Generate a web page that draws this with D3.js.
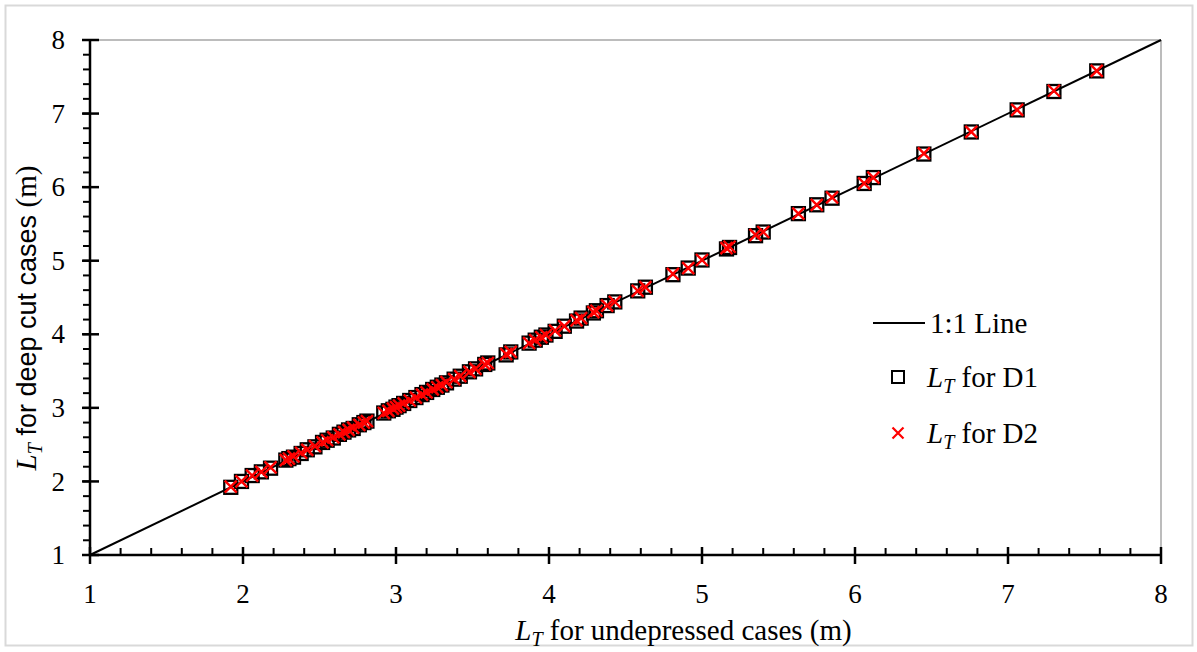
<!DOCTYPE html>
<html><head><meta charset="utf-8">
<script src="https://cdn.jsdelivr.net/npm/d3@7"></script>
<style>body{margin:0;background:#fff}svg{display:block}</style>
</head><body><svg id="c" width="1197" height="652"></svg>
<script>
const undepressed = [1.92,1.99,2.06,2.12,2.18,2.28,2.30,2.33,2.38,2.42,2.47,2.52,2.55,2.59,2.63,2.66,2.69,2.72,2.76,2.79,2.81,2.92,2.95,2.98,3.00,3.02,3.05,3.09,3.13,3.17,3.20,3.24,3.27,3.30,3.33,3.38,3.42,3.48,3.52,3.58,3.60,3.72,3.75,3.87,3.91,3.95,3.98,4.04,4.10,4.18,4.21,4.29,4.31,4.38,4.43,4.58,4.63,4.81,4.91,5.00,5.16,5.18,5.35,5.40,5.63,5.75,5.85,6.06,6.12,6.45,6.76,7.06,7.30,7.58];
const deepD1 = [1.92,2.00,2.08,2.13,2.18,2.29,2.31,2.33,2.38,2.43,2.47,2.53,2.56,2.59,2.64,2.67,2.70,2.72,2.77,2.80,2.82,2.93,2.96,2.98,3.01,3.03,3.06,3.10,3.14,3.18,3.21,3.25,3.28,3.31,3.34,3.39,3.43,3.49,3.53,3.59,3.61,3.72,3.76,3.88,3.92,3.96,3.99,4.04,4.11,4.18,4.22,4.29,4.32,4.39,4.44,4.59,4.64,4.81,4.90,5.01,5.16,5.18,5.34,5.39,5.64,5.76,5.85,6.05,6.13,6.45,6.75,7.05,7.30,7.58];
const deepD2 = [1.93,2.00,2.08,2.13,2.19,2.29,2.31,2.34,2.39,2.43,2.48,2.53,2.56,2.60,2.64,2.67,2.70,2.73,2.77,2.80,2.82,2.93,2.96,2.99,3.01,3.03,3.06,3.10,3.14,3.18,3.21,3.25,3.28,3.31,3.35,3.39,3.43,3.49,3.53,3.59,3.61,3.73,3.76,3.88,3.92,3.96,3.99,4.05,4.11,4.19,4.22,4.30,4.32,4.39,4.44,4.59,4.64,4.82,4.90,5.01,5.17,5.19,5.35,5.39,5.64,5.76,5.86,6.05,6.13,6.46,6.75,7.05,7.31,7.58];
const lineEnds = [1, 8];
const majorTicks = [1,2,3,4,5,6,7,8];
const minorTicks = d3.range(1, 8.001, 0.2).map(v => +v.toFixed(1));
const legendLabels = ["1:1 Line", "for D1", "for D2"];

const svg = d3.select("#c");
svg.append("rect").attr("x",5.5).attr("y",5.5).attr("width",1187).attr("height",640)
  .attr("fill","#fff").attr("stroke","#d9d9d9").attr("stroke-width",2);

const x = d3.scaleLinear().domain([1,8]).range([90,1161]);
const y = d3.scaleLinear().domain([1,8]).range([555,40]);

svg.append("line").attr("x1",x(1)).attr("x2",x(8)).attr("y1",y(8)).attr("y2",y(8)).attr("stroke","#a6a6a6").attr("stroke-width",1.5);
svg.append("line").attr("x1",x(8)).attr("x2",x(8)).attr("y1",y(8)).attr("y2",y(1)).attr("stroke","#a6a6a6").attr("stroke-width",1.5);

svg.append("line").attr("x1",x(lineEnds[0])).attr("y1",y(lineEnds[0])).attr("x2",x(lineEnds[1])).attr("y2",y(lineEnds[1]))
  .attr("stroke","#000").attr("stroke-width",2);

const gx = svg.append("g");
gx.append("line").attr("x1",x(1)).attr("x2",x(8)).attr("y1",y(1)).attr("y2",y(1)).attr("stroke","#000").attr("stroke-width",2.5);
gx.selectAll(".mn").data(minorTicks).join("line").attr("x1",d=>x(d)).attr("x2",d=>x(d)).attr("y1",y(1)-7).attr("y2",y(1)).attr("stroke","#000").attr("stroke-width",2);
gx.selectAll(".mj").data(majorTicks).join("line").attr("x1",d=>x(d)).attr("x2",d=>x(d)).attr("y1",y(1)-8).attr("y2",y(1)+9).attr("stroke","#000").attr("stroke-width",2.5);
gx.selectAll("text").data(majorTicks).join("text").attr("x",d=>x(d)).attr("y",603).attr("text-anchor","middle")
  .attr("font-family","Liberation Serif").attr("font-size",27).text(d=>d);

const gy = svg.append("g");
gy.append("line").attr("x1",x(1)).attr("x2",x(1)).attr("y1",y(1)).attr("y2",y(8)).attr("stroke","#000").attr("stroke-width",2.5);
gy.selectAll(".mn").data(minorTicks).join("line").attr("y1",d=>y(d)).attr("y2",d=>y(d)).attr("x1",x(1)-7).attr("x2",x(1)).attr("stroke","#000").attr("stroke-width",2);
gy.selectAll(".mj").data(majorTicks).join("line").attr("y1",d=>y(d)).attr("y2",d=>y(d)).attr("x1",x(1)-8).attr("x2",x(1)+9).attr("stroke","#000").attr("stroke-width",2.5);
gy.selectAll("text").data(majorTicks).join("text").attr("x",65).attr("y",d=>y(d)).attr("dy","0.34em").attr("text-anchor","end")
  .attr("font-family","Liberation Serif").attr("font-size",27).text(d=>d);

const pts = undepressed.map((u,i)=>({u, d1:deepD1[i], d2:deepD2[i]}));
const s = 13;
svg.append("g").selectAll("rect").data(pts).join("rect")
  .attr("x",d=>x(d.u)-s/2).attr("y",d=>y(d.d1)-s/2).attr("width",s).attr("height",s)
  .attr("fill","none").attr("stroke","#000").attr("stroke-width",2.3);
const c = 6;
svg.append("g").selectAll("path").data(pts).join("path")
  .attr("d",d=>{const px=x(d.u), py=y(d.d2); return `M${px-c},${py-c}L${px+c},${py+c}M${px-c},${py+c}L${px+c},${py-c}`;})
  .attr("stroke","#ff0000").attr("stroke-width",2.4).attr("fill","none");

const xt = svg.append("text").attr("x",(x(1)+x(8))/2+58).attr("y",640).attr("text-anchor","middle")
  .attr("font-family","Liberation Serif").attr("font-size",29);
xt.append("tspan").attr("font-style","italic").text("L");
xt.append("tspan").attr("font-style","italic").attr("font-size",20).attr("dy",6).text("T");
xt.append("tspan").attr("dy",-6).text(" for undepressed cases (m)");

const yt = svg.append("text").attr("transform",`translate(36,${318}) rotate(-90)`).attr("text-anchor","middle")
  .attr("font-family","Liberation Serif").attr("font-size",29);
yt.append("tspan").attr("font-style","italic").text("L");
yt.append("tspan").attr("font-style","italic").attr("font-size",20).attr("dy",6).text("T");
yt.append("tspan").attr("dy",-6).attr("font-family","Liberation Sans").attr("font-size",27).text(" for deep cut cases ");
yt.append("tspan").text("(m)");

const lg = svg.append("g");
lg.append("line").attr("x1",873).attr("x2",925).attr("y1",323).attr("y2",323).attr("stroke","#000").attr("stroke-width",2);
lg.append("text").attr("x",930).attr("y",333).attr("font-family","Liberation Serif").attr("font-size",29).text(legendLabels[0]);
lg.append("rect").attr("x",898-6).attr("y",377-6).attr("width",12).attr("height",12).attr("fill","none").attr("stroke","#000").attr("stroke-width",2);
lg.append("path").attr("d",`M${898-5.5},${433-5.5}L${898+5.5},${433+5.5}M${898-5.5},${433+5.5}L${898+5.5},${433-5.5}`).attr("stroke","#ff0000").attr("stroke-width",2.2);
[[377,legendLabels[1]],[433,legendLabels[2]]].forEach(([yy,lab])=>{
  const t = lg.append("text").attr("x",927).attr("y",yy+10).attr("font-family","Liberation Serif").attr("font-size",29);
  t.append("tspan").attr("font-style","italic").text("L");
  t.append("tspan").attr("font-style","italic").attr("font-size",20).attr("dy",6).text("T");
  t.append("tspan").attr("dy",-6).text(" " + lab);
});
</script></body></html>
